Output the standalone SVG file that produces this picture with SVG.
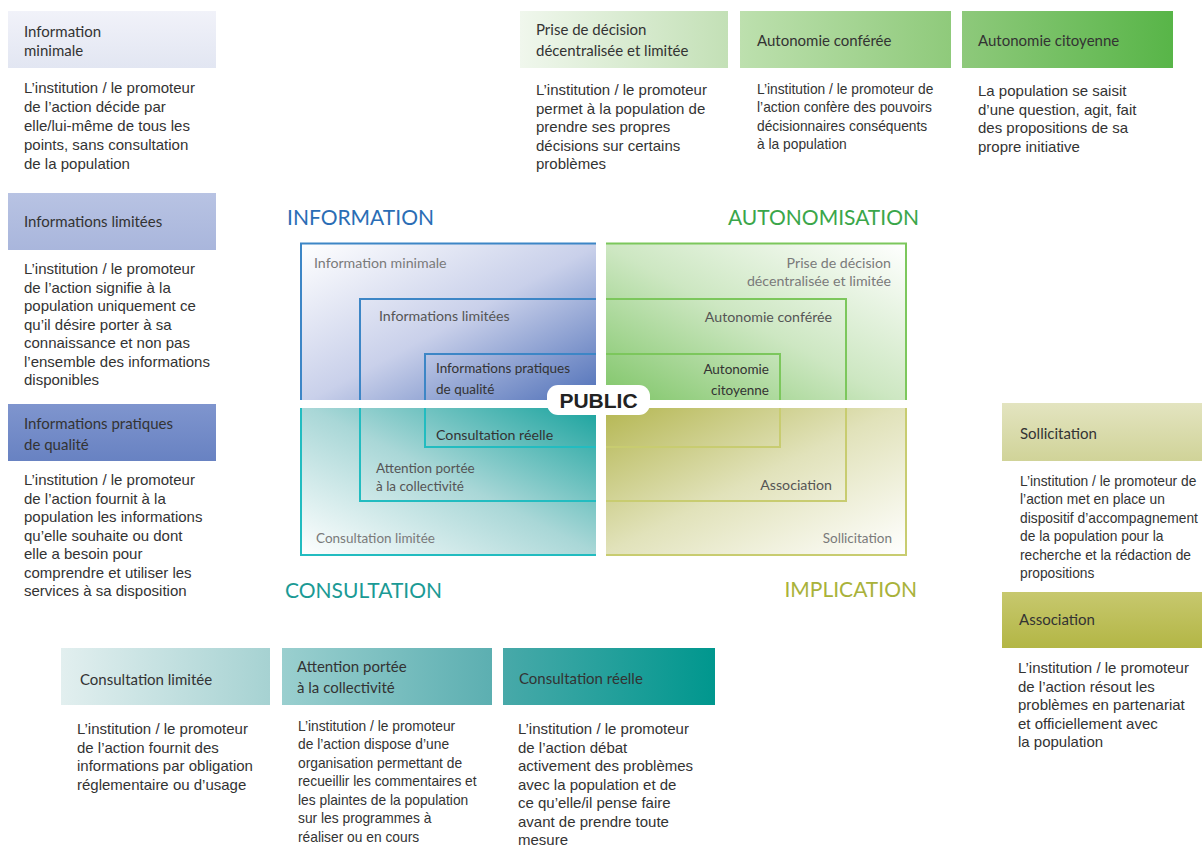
<svg xmlns="http://www.w3.org/2000/svg" width="1202" height="846" viewBox="0 0 1202 846">
<style>
.d{font-family:"Liberation Sans",Arial,sans-serif;font-size:15px;fill:#333}
.h{font-family:Lato,"Open Sans",sans-serif;font-size:15px;fill:#333}
.q{font-family:Lato,"Open Sans",sans-serif;font-size:14.2px}
.qs{font-size:13.5px}
.q1{fill:#7a7a7a}.q2{fill:#555}.q3{fill:#333}
.t{font-family:Lato,"Open Sans",sans-serif;font-size:21px}
.bi{fill:none;stroke:#3d86c6;stroke-width:2}
.ba{fill:none;stroke:#7cc75c;stroke-width:2}
.bc{fill:none;stroke:#22bcc0;stroke-width:2}
.bm{fill:none;stroke:#c8cc70;stroke-width:2}
</style>
<defs>
<linearGradient id="gI1" x1="0" y1="0" x2="0" y2="1"><stop offset="0" stop-color="#f1f2f9"/><stop offset="1" stop-color="#e2e6f2"/></linearGradient>
<linearGradient id="gI2" x1="0" y1="0" x2="0" y2="1"><stop offset="0" stop-color="#b8c3e3"/><stop offset="1" stop-color="#a9b6dc"/></linearGradient>
<linearGradient id="gI3" x1="0" y1="0" x2="0" y2="1"><stop offset="0" stop-color="#7f95ce"/><stop offset="1" stop-color="#6882c2"/></linearGradient>
<linearGradient id="gA1" x1="0" y1="0" x2="1" y2="0"><stop offset="0" stop-color="#f0f7ed"/><stop offset="1" stop-color="#c3e0b6"/></linearGradient>
<linearGradient id="gA2" x1="0" y1="0" x2="1" y2="0"><stop offset="0" stop-color="#bde0ae"/><stop offset="1" stop-color="#8fca7b"/></linearGradient>
<linearGradient id="gA3" x1="0" y1="0" x2="1" y2="0"><stop offset="0" stop-color="#8ec97b"/><stop offset="1" stop-color="#58b548"/></linearGradient>
<linearGradient id="gM1" x1="0" y1="0" x2="0" y2="1"><stop offset="0" stop-color="#e3e4c0"/><stop offset="1" stop-color="#d0d398"/></linearGradient>
<linearGradient id="gM2" x1="0" y1="0" x2="0" y2="1"><stop offset="0" stop-color="#c7c86e"/><stop offset="1" stop-color="#b3b645"/></linearGradient>
<linearGradient id="gC1" x1="0" y1="0" x2="1" y2="0"><stop offset="0" stop-color="#e2efef"/><stop offset="1" stop-color="#a6d2d2"/></linearGradient>
<linearGradient id="gC2" x1="0" y1="0" x2="1" y2="0"><stop offset="0" stop-color="#9acfcf"/><stop offset="1" stop-color="#5cafb1"/></linearGradient>
<linearGradient id="gC3" x1="0" y1="0" x2="1" y2="0"><stop offset="0" stop-color="#48a9a9"/><stop offset="1" stop-color="#00978e"/></linearGradient>
<linearGradient id="qI" x1="0" y1="0" x2="1" y2="1"><stop offset="0" stop-color="#ffffff"/><stop offset="0.5" stop-color="#c9d0ea"/><stop offset="1" stop-color="#4a6cb6"/></linearGradient>
<linearGradient id="qA" x1="1" y1="0" x2="0" y2="1"><stop offset="0" stop-color="#ffffff"/><stop offset="0.5" stop-color="#cde7c2"/><stop offset="1" stop-color="#7cc464"/></linearGradient>
<linearGradient id="qC" x1="0" y1="1" x2="1" y2="0"><stop offset="0" stop-color="#ffffff"/><stop offset="0.5" stop-color="#a9d7d7"/><stop offset="1" stop-color="#14a19c"/></linearGradient>
<linearGradient id="qM" x1="1" y1="1" x2="0" y2="0"><stop offset="0" stop-color="#ffffff"/><stop offset="0.5" stop-color="#e1e2ba"/><stop offset="1" stop-color="#b3b54e"/></linearGradient>
</defs>
<rect width="1202" height="846" fill="#ffffff"/>

<!-- Center diagram -->
<g id="quadrant-information">
<rect x="301" y="243.5" width="300" height="161" class="bi" style="fill:url(#qI)"/>
<rect x="360" y="299" width="241" height="105" class="bi"/>
<rect x="425" y="354" width="176" height="50" class="bi"/>
<text class="q q1" x="314" y="268">Information minimale</text>
<text class="q q2" x="379" y="321">Informations limitées</text>
<text class="q qs q3" x="436" y="373" font-size="13">Informations pratiques</text>
<text class="q qs q3" x="436" y="394" font-size="13">de qualité</text>
</g>
<g id="quadrant-autonomisation">
<rect x="601" y="243.5" width="305" height="161" class="ba" style="fill:url(#qA)"/>
<rect x="601" y="299" width="245" height="105" class="ba"/>
<rect x="601" y="354" width="179" height="50" class="ba"/>
<text class="q q1" x="891" y="268" text-anchor="end">Prise de décision</text>
<text class="q q1" x="891" y="286" text-anchor="end">décentralisée et limitée</text>
<text class="q q2" x="832" y="322" text-anchor="end">Autonomie conférée</text>
<text class="q qs q3" x="769" y="374" text-anchor="end">Autonomie</text>
<text class="q qs q3" x="769" y="395" text-anchor="end">citoyenne</text>
</g>
<g id="quadrant-consultation">
<rect x="301" y="404" width="300" height="151" class="bc" style="fill:url(#qC)"/>
<rect x="360" y="404" width="241" height="97" class="bc"/>
<rect x="425" y="404" width="176" height="43" class="bc"/>
<text class="q q3" x="436" y="440">Consultation réelle</text>
<text class="q qs q2" x="376" y="473">Attention portée</text>
<text class="q qs q2" x="376" y="491">à la collectivité</text>
<text class="q qs q1" x="316" y="543">Consultation limitée</text>
</g>
<g id="quadrant-implication">
<rect x="601" y="404" width="305" height="151" class="bm" style="fill:url(#qM)"/>
<rect x="601" y="404" width="245" height="97" class="bm"/>
<rect x="601" y="404" width="179" height="43" class="bm"/>
<text class="q q2" x="832" y="490" text-anchor="end">Association</text>
<text class="q qs q1" x="892" y="543" text-anchor="end">Sollicitation</text>
</g>
<g id="separators">
<rect x="596" y="242" width="10" height="315" fill="#ffffff"/>
<rect x="299" y="400" width="609" height="8" fill="#ffffff"/>
</g>
<g id="public">
<rect x="547" y="385" width="103" height="30" rx="11" fill="#ffffff"/>
<text x="598.5" y="408" text-anchor="middle" font-family="'Liberation Sans',Arial,sans-serif" font-weight="bold" font-size="21" fill="#222">PUBLIC</text>
</g>
<g id="titles">
<text class="t" x="287" y="225" fill="#2a6db5">INFORMATION</text>
<text class="t" x="919" y="225" fill="#3aa64a" text-anchor="end">AUTONOMISATION</text>
<text class="t" x="285" y="598" fill="#1a9a95">CONSULTATION</text>
<text class="t" x="917" y="597" fill="#a9b23a" text-anchor="end">IMPLICATION</text>
</g>

<!-- Left column -->
<g id="info-minimale">
<rect x="8" y="11" width="208" height="57" fill="url(#gI1)"/>
<text class="h" x="24" y="37">Information</text>
<text class="h" x="24" y="56">minimale</text>
<text class="d" x="24" y="93">L’institution / le promoteur</text>
<text class="d" x="24" y="112">de l’action décide par</text>
<text class="d" x="24" y="131">elle/lui-même de tous les</text>
<text class="d" x="24" y="150">points, sans consultation</text>
<text class="d" x="24" y="168.5">de la population</text>
</g>
<g id="info-limitees">
<rect x="8" y="193" width="208" height="57" fill="url(#gI2)"/>
<text class="h" x="24" y="227">Informations limitées</text>
<text class="d" x="24" y="274">L’institution / le promoteur</text>
<text class="d" x="24" y="292.5">de l’action signifie à la</text>
<text class="d" x="24" y="311">population uniquement ce</text>
<text class="d" x="24" y="329.5">qu’il désire porter à sa</text>
<text class="d" x="24" y="348">connaissance et non pas</text>
<text class="d" x="24" y="366.5">l’ensemble des informations</text>
<text class="d" x="24" y="385">disponibles</text>
</g>
<g id="info-pratiques">
<rect x="8" y="404" width="208" height="57" fill="url(#gI3)"/>
<text class="h" x="24" y="429">Informations pratiques</text>
<text class="h" x="24" y="450">de qualité</text>
<text class="d" x="24" y="485">L’institution / le promoteur</text>
<text class="d" x="24" y="503.5">de l’action fournit à la</text>
<text class="d" x="24" y="522">population les informations</text>
<text class="d" x="24" y="540.5">qu’elle souhaite ou dont</text>
<text class="d" x="24" y="559">elle a besoin pour</text>
<text class="d" x="24" y="577.5">comprendre et utiliser les</text>
<text class="d" x="24" y="596">services à sa disposition</text>
</g>

<!-- Top row -->
<g id="prise-decision">
<rect x="520" y="11" width="208" height="57" fill="url(#gA1)"/>
<text class="h" x="536" y="35">Prise de décision</text>
<text class="h" x="536" y="56">décentralisée et limitée</text>
<text class="d" x="536" y="95">L’institution / le promoteur</text>
<text class="d" x="536" y="113.5">permet à la population de</text>
<text class="d" x="536" y="132">prendre ses propres</text>
<text class="d" x="536" y="150.5">décisions sur certains</text>
<text class="d" x="536" y="169">problèmes</text>
</g>
<g id="autonomie-conferee">
<rect x="740" y="11" width="211" height="57" fill="url(#gA2)"/>
<text class="h" x="757" y="46">Autonomie conférée</text>
<g transform="translate(757,0) scale(0.92,1)">
<text class="d" x="0" y="94">L’institution / le promoteur de</text>
<text class="d" x="0" y="112.5">l’action confère des pouvoirs</text>
<text class="d" x="0" y="131">décisionnaires conséquents</text>
<text class="d" x="0" y="149.5">à la population</text>
</g>
</g>
<g id="autonomie-citoyenne">
<rect x="962" y="11" width="211" height="57" fill="url(#gA3)"/>
<text class="h" x="978" y="46">Autonomie citoyenne</text>
<text class="d" x="978" y="96">La population se saisit</text>
<text class="d" x="978" y="114.5">d’une question, agit, fait</text>
<text class="d" x="978" y="133">des propositions de sa</text>
<text class="d" x="978" y="151.5">propre initiative</text>
</g>

<!-- Right column -->
<g id="sollicitation">
<rect x="1002" y="403" width="200" height="58" fill="url(#gM1)"/>
<text class="h" x="1020" y="439">Sollicitation</text>
<g transform="translate(1020,0) scale(0.92,1)">
<text class="d" x="0" y="486">L’institution / le promoteur de</text>
<text class="d" x="0" y="504.5">l’action met en place un</text>
<text class="d" x="0" y="523">dispositif d’accompagnement</text>
<text class="d" x="0" y="541.5">de la population pour la</text>
<text class="d" x="0" y="560">recherche et la rédaction de</text>
<text class="d" x="0" y="578.5">propositions</text>
</g>
</g>
<g id="association">
<rect x="1002" y="592" width="200" height="56" fill="url(#gM2)"/>
<text class="h" x="1019" y="625">Association</text>
<text class="d" x="1018" y="673">L’institution / le promoteur</text>
<text class="d" x="1018" y="691.5">de l’action résout les</text>
<text class="d" x="1018" y="710">problèmes en partenariat</text>
<text class="d" x="1018" y="728.5">et officiellement avec</text>
<text class="d" x="1018" y="747">la population</text>
</g>

<!-- Bottom row -->
<g id="consultation-limitee">
<rect x="61" y="648" width="209" height="57" fill="url(#gC1)"/>
<text class="h" x="80" y="685">Consultation limitée</text>
<text class="d" x="77" y="734">L’institution / le promoteur</text>
<text class="d" x="77" y="752.5">de l’action fournit des</text>
<text class="d" x="77" y="771">informations par obligation</text>
<text class="d" x="77" y="789.5">réglementaire ou d’usage</text>
</g>
<g id="attention-collectivite">
<rect x="282" y="648" width="210" height="57" fill="url(#gC2)"/>
<text class="h" x="297" y="672">Attention portée</text>
<text class="h" x="297" y="693">à la collectivité</text>
<g transform="translate(298,0) scale(0.92,1)">
<text class="d" x="0" y="731">L’institution / le promoteur</text>
<text class="d" x="0" y="749.5">de l’action dispose d’une</text>
<text class="d" x="0" y="768">organisation permettant de</text>
<text class="d" x="0" y="786.5">recueillir les commentaires et</text>
<text class="d" x="0" y="805">les plaintes de la population</text>
<text class="d" x="0" y="823.5">sur les programmes à</text>
<text class="d" x="0" y="842">réaliser ou en cours</text>
</g>
</g>
<g id="consultation-reelle">
<rect x="503" y="648" width="212" height="57" fill="url(#gC3)"/>
<text class="h" x="519" y="684">Consultation réelle</text>
<text class="d" x="518" y="734">L’institution / le promoteur</text>
<text class="d" x="518" y="752.5">de l’action débat</text>
<text class="d" x="518" y="771">activement des problèmes</text>
<text class="d" x="518" y="789.5">avec la population et de</text>
<text class="d" x="518" y="808">ce qu’elle/il pense faire</text>
<text class="d" x="518" y="826.5">avant de prendre toute</text>
<text class="d" x="518" y="845">mesure</text>
</g>
<g id="connectors"></g>
</svg>
